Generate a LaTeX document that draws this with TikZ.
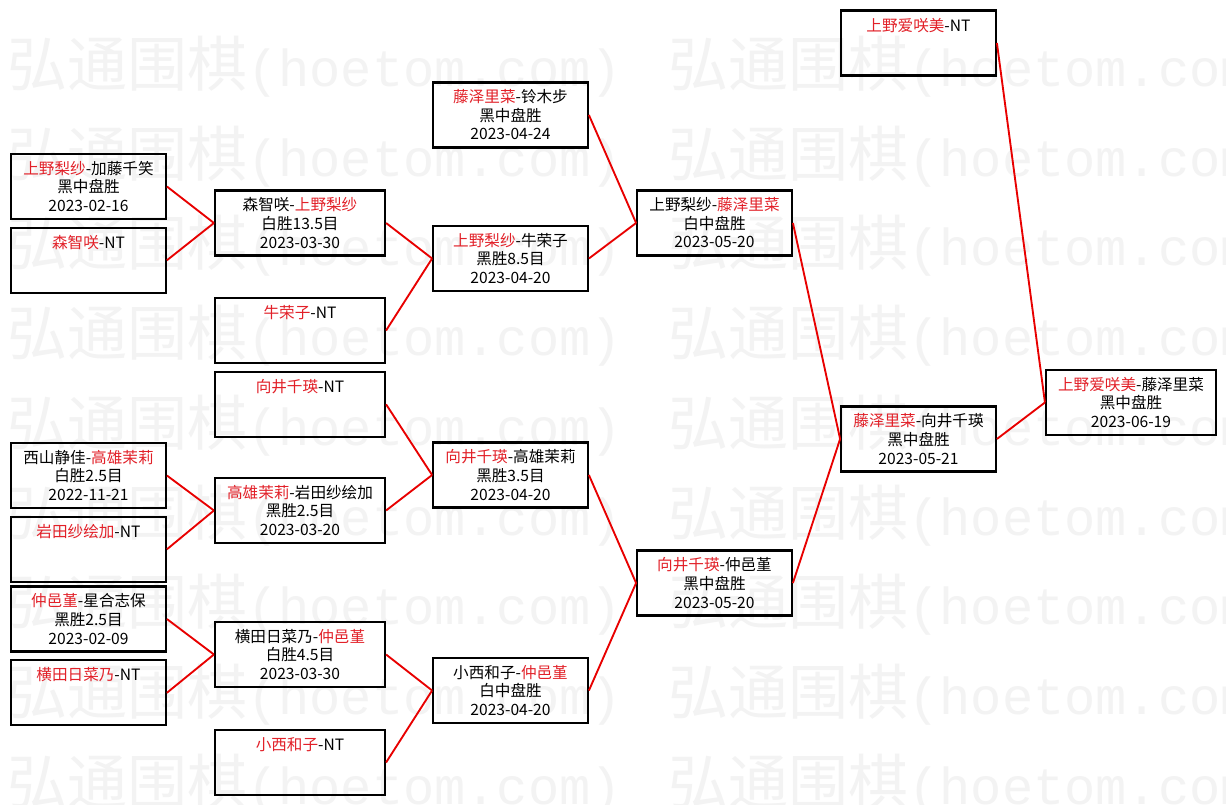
\documentclass[tikz,border=0pt]{standalone}
\usepackage{fontspec}
\setmainfont{Noto Sans CJK SC}
\setmonofont{Liberation Mono}
\usepackage{tikz}
\usepackage{xcolor}
\usetikzlibrary{positioning}
\definecolor{BracketBlack}{RGB}{0, 0, 0}
\definecolor{BracketRed}{RGB}{232, 0, 0}
\definecolor{WinnerRed}{RGB}{226, 32, 40}
\definecolor{MarkGray}{RGB}{243, 243, 243}
\newcommand{\win}[1]{\textcolor{WinnerRed}{#1}}
\newcommand{\hoetom}{{\fontsize{45}{45}\selectfont 弘通围棋}{\fontsize{39}{39}\ttfamily (hoetom.com)}}

\begin{document}
\begin{tikzpicture}[
    x=0.75pt, y=-0.75pt,
    node distance=5pt,
    font=\fontsize{11.7}{13.9}\selectfont,
    % Styles
    match/.style={rectangle, line width=1.6pt, minimum width=116pt, minimum height=48.75pt, inner sep=0pt, align=center, draw=BracketBlack, text=BracketBlack},
    wide/.style={match, minimum width=127.5pt},
    link/.style={line width=1.4pt, -, color=BracketRed},
    wmtext/.style={anchor=west, inner sep=0pt, text=MarkGray}
]

% Canvas
\path[use as bounding box, fill=white] (0,0) rectangle (1226,805);

% ==========================================================================================
% WATERMARK
% ==========================================================================================
\node[wmtext] (mark_1) at (7,67) {\hoetom\hspace{35pt}\hoetom};
\node[wmtext] (mark_2) at (7,157) {\hoetom\hspace{35pt}\hoetom};
\node[wmtext] (mark_3) at (7,246) {\hoetom\hspace{35pt}\hoetom};
\node[wmtext] (mark_4) at (7,336) {\hoetom\hspace{35pt}\hoetom};
\node[wmtext] (mark_5) at (7,426) {\hoetom\hspace{35pt}\hoetom};
\node[wmtext] (mark_6) at (7,516) {\hoetom\hspace{35pt}\hoetom};
\node[wmtext] (mark_7) at (7,605) {\hoetom\hspace{35pt}\hoetom};
\node[wmtext] (mark_8) at (7,695) {\hoetom\hspace{35pt}\hoetom};
\node[wmtext] (mark_9) at (7,785) {\hoetom\hspace{35pt}\hoetom};

% ==========================================================================================
% ROUND 1
% ==========================================================================================
\node[match] (r1_a) at (88.5,186.5) {\win{上野梨纱}-加藤千笑\\黑中盘胜\\2023-02-16};
\node[match, below=of r1_a] (r1_b) {\win{森智咲}-NT\\~\\~};
\node[match] (r1_c) at (88.5,475.5) {西山静佳-\win{高雄茉莉}\\白胜2.5目\\2022-11-21};
\node[match, below=of r1_c] (r1_d) {\win{岩田纱绘加}-NT\\~\\~};
\node[match] (r1_e) at (88.5,619) {\win{仲邑堇}-星合志保\\黑胜2.5目\\2023-02-09};
\node[match, below=of r1_e] (r1_f) {\win{横田日菜乃}-NT\\~\\~};

% ==========================================================================================
% ROUND 2
% ==========================================================================================
\node[wide] (r2_a) at (300,223) {森智咲-\win{上野梨纱}\\白胜13.5目\\2023-03-30};
\node[wide] (r2_b) at (300,330.5) {\win{牛荣子}-NT\\~\\~};
\node[wide, below=of r2_b] (r2_c) {\win{向井千瑛}-NT\\~\\~};
\node[wide] (r2_d) at (300,510.5) {\win{高雄茉莉}-岩田纱绘加\\黑胜2.5目\\2023-03-20};
\node[wide] (r2_e) at (300,654.5) {横田日菜乃-\win{仲邑堇}\\白胜4.5目\\2023-03-30};
\node[wide] (r2_f) at (300,762.5) {\win{小西和子}-NT\\~\\~};

% Arrows
\draw[link] (r1_a.east) -- (r2_a.west);
\draw[link] (r1_b.east) -- (r2_a.west);
\draw[link] (r1_c.east) -- (r2_d.west);
\draw[link] (r1_d.east) -- (r2_d.west);
\draw[link] (r1_e.east) -- (r2_e.west);
\draw[link] (r1_f.east) -- (r2_e.west);

% ==========================================================================================
% ROUND 3
% ==========================================================================================
\node[match] (r3_a) at (510.5,115) {\win{藤泽里菜}-铃木步\\黑中盘胜\\2023-04-24};
\node[match] (r3_b) at (510.5,258.5) {\win{上野梨纱}-牛荣子\\黑胜8.5目\\2023-04-20};
\node[match] (r3_c) at (510.5,475) {\win{向井千瑛}-高雄茉莉\\黑胜3.5目\\2023-04-20};
\node[match] (r3_d) at (510.5,690.5) {小西和子-\win{仲邑堇}\\白中盘胜\\2023-04-20};

% Arrows
\draw[link] (r2_a.east) -- (r3_b.west);
\draw[link] (r2_b.east) -- (r3_b.west);
\draw[link] (r2_c.east) -- (r3_c.west);
\draw[link] (r2_d.east) -- (r3_c.west);
\draw[link] (r2_e.east) -- (r3_d.west);
\draw[link] (r2_f.east) -- (r3_d.west);

% ==========================================================================================
% SEMI-FINALS AND FINAL
% ==========================================================================================
\node[match] (r4_a) at (714.5,223) {上野梨纱-\win{藤泽里菜}\\白中盘胜\\2023-05-20};
\node[match] (r4_b) at (714.5,583) {\win{向井千瑛}-仲邑堇\\黑中盘胜\\2023-05-20};

\node[match] (r5_a) at (918.5,43) {\win{上野爱咲美}-NT\\~\\~};
\node[match] (r5_b) at (918.5,439) {\win{藤泽里菜}-向井千瑛\\黑中盘胜\\2023-05-21};

\node[wide] (final) at (1131,402.5) {\win{上野爱咲美}-藤泽里菜\\黑中盘胜\\2023-06-19};

% Arrows
\draw[link] (r3_a.east) -- (r4_a.west);
\draw[link] (r3_b.east) -- (r4_a.west);
\draw[link] (r3_c.east) -- (r4_b.west);
\draw[link] (r3_d.east) -- (r4_b.west);
\draw[link] (r4_a.east) -- (r5_b.west);
\draw[link] (r4_b.east) -- (r5_b.west);
\draw[link] (r5_a.east) -- (final.west);
\draw[link] (r5_b.east) -- (final.west);

\end{tikzpicture}
\end{document}
